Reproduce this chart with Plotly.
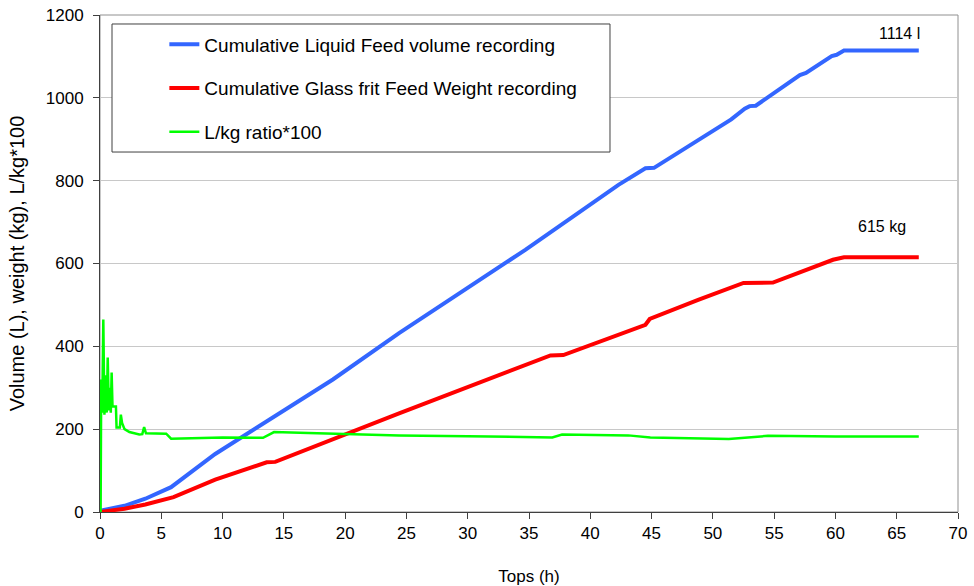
import plotly.graph_objects as go

# ---- data ----
liquid_t = [0, 1.2, 2.0, 3.7, 5.3, 5.8, 9.4, 19.0, 24.4, 34.7, 42.3, 44.5, 45.2, 51.5,
            52.6, 53.0, 53.5, 57.1, 57.6, 59.7, 60.1, 60.7, 66.8]
liquid_v = [3, 10, 15, 32, 55, 60, 140, 320, 432, 633, 790, 830, 831, 948,
            974, 980, 981, 1055, 1060, 1101, 1104, 1114, 1114]

frit_t = [0, 1.2, 2.0, 3.7, 5.3, 6.0, 9.4, 13.6, 14.3, 24.4, 36.75, 37.8, 44.5, 44.85,
          48.8, 52.5, 54.9, 59.8, 60.7, 66.8]
frit_v = [0, 4, 8, 18, 30, 36, 78, 120, 121, 238, 378, 379, 452, 466,
          512, 553, 554, 609, 615, 615]

ratio_t = [0, 0.05, 0.1, 0.18, 0.27, 0.36, 0.46, 0.55, 0.63, 0.72, 0.8, 0.88, 0.95, 1.02,
           1.3, 1.35, 1.62, 1.7, 1.8, 2.0, 2.4, 2.8, 3.2, 3.45, 3.6, 3.75, 4.5, 5.4, 5.8,
           8.0, 10.0, 13.3, 14.2, 17.0, 21.0, 24.4, 30.0, 36.9, 37.7, 43.1, 44.9, 51.3,
           54.5, 60.0, 66.8]
ratio_v = [0, 0, 320, 240, 465, 235, 330, 240, 373, 245, 300, 240, 337, 255,
           255, 204, 204, 235, 215, 200, 193, 190, 187, 188, 205, 190, 190, 189, 177,
           178, 180, 179, 193, 191, 187, 185, 183, 180, 187, 185, 180, 176,
           184, 182, 182]

series_names = ["Cumulative Liquid Feed volume recording",
                "Cumulative Glass frit Feed Weight recording",
                "L/kg ratio*100"]
x_ticks = list(range(0, 71, 5))
y_ticks = list(range(0, 1201, 200))
end_labels = ["1114 l", "615 kg"]

FONT = "Liberation Sans, Arial, sans-serif"

fig = go.Figure()
fig.add_trace(go.Scatter(x=liquid_t, y=liquid_v, mode="lines", name=series_names[0],
                         legendgroup="a", line=dict(color="#3366FF", width=4)))
fig.add_trace(go.Scatter(x=frit_t, y=frit_v, mode="lines", name=series_names[1],
                         legendgroup="b", line=dict(color="#FF0000", width=4)))
fig.add_trace(go.Scatter(x=ratio_t, y=ratio_v, mode="lines", name=series_names[2],
                         legendgroup="c", line=dict(color="#00FF00", width=2.5)))

fig.update_layout(
    width=974, height=586,
    margin=dict(l=100, r=16, t=15, b=74, autoexpand=False),
    paper_bgcolor="white", plot_bgcolor="white",
    font=dict(family=FONT, size=17, color="black"),
    showlegend=True,
    legend=dict(x=0.075, y=0.979, xanchor="left", yanchor="top",
                bgcolor="rgba(0,0,0,0)", borderwidth=0,
                font=dict(family=FONT, size=19, color="black"),
                tracegroupgap=16, traceorder="grouped"),
    shapes=[
        dict(type="rect", xref="paper", yref="paper", x0=0, x1=1, y0=0, y1=1,
             line=dict(color="#909090", width=1), layer="below"),
        dict(type="rect", xref="paper", yref="paper", x0=0.014, x1=0.5944,
             y0=0.7243, y1=0.9819, line=dict(color="#404040", width=1),
             fillcolor="white", layer="above"),
    ],
    annotations=[
        dict(x=65.2, y=1155, xref="x", yref="y", text=end_labels[0], showarrow=False,
             font=dict(family=FONT, size=16, color="black")),
        dict(x=63.8, y=689, xref="x", yref="y", text=end_labels[1], showarrow=False,
             font=dict(family=FONT, size=16, color="black")),
    ],
)

fig.update_xaxes(range=[0, 70], tickvals=x_ticks, ticks="outside", ticklen=6,
                 tickcolor="#404040", showline=True, linecolor="#404040", linewidth=1,
                 showgrid=False, zeroline=False, automargin=False,
                 title=dict(text="Tops (h)", font=dict(family=FONT, size=17), standoff=27),
                 tickfont=dict(family=FONT, size=17))
fig.update_yaxes(range=[0, 1200], tickvals=y_ticks, ticks="outside", ticklen=6,
                 tickcolor="#404040", showline=True, linecolor="#404040", linewidth=1,
                 showgrid=True, gridcolor="#C8C8C8", gridwidth=1, zeroline=False,
                 ticklabelstandoff=6, automargin=False,
                 title=dict(text="Volume (L), weight (kg), L/kg*100",
                            font=dict(family=FONT, size=20), standoff=15),
                 tickfont=dict(family=FONT, size=17))

fig.write_html("out.html",
               config={"displayModeBar": False},
               post_script="document.body.style.margin='0';document.body.style.padding='0';")
